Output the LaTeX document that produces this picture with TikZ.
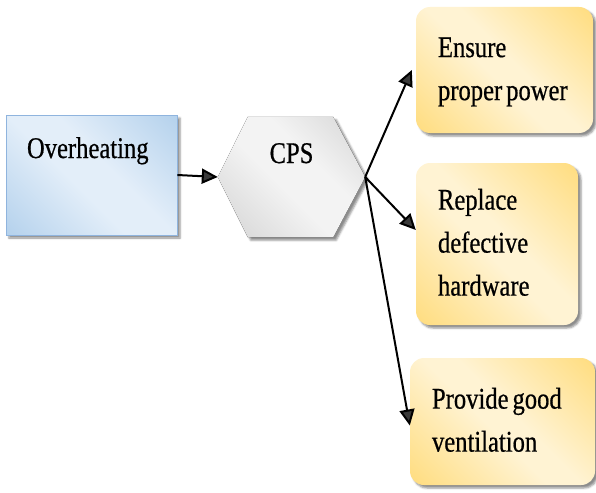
\documentclass[tikz,border=0pt]{standalone}
\usepackage{fontspec}
\setmainfont[FakeStretch=0.82,FakeBold=0.6]{Liberation Serif}
\usetikzlibrary{arrows.meta,shadows.blur}

\definecolor{blueEdge}{HTML}{9DC3E6}
\definecolor{blueMid}{HTML}{E3EEF9}
\definecolor{blueLine}{HTML}{8FB4DE}
\definecolor{grayEdge}{HTML}{C4C4C4}
\definecolor{grayMid}{HTML}{F3F3F3}
\definecolor{goldEdge}{HTML}{FFD257}
\definecolor{goldMid}{HTML}{FFF3D3}

\pgfdeclarehorizontalshading{blueband}{100bp}{color(0bp)=(blueEdge); color(44bp)=(blueMid); color(56bp)=(blueMid); color(100bp)=(blueEdge)}
\pgfdeclarehorizontalshading{grayband}{100bp}{color(0bp)=(grayEdge); color(45bp)=(grayMid); color(60bp)=(grayMid); color(100bp)=(grayEdge)}
\pgfdeclarehorizontalshading{goldband}{100bp}{color(0bp)=(goldEdge); color(46bp)=(goldMid); color(54bp)=(goldMid); color(100bp)=(goldEdge)}

% stacked lines of a label, left aligned, with tight word spacing
\newcommand{\lines}[1]{{\spaceskip=4pt plus 1pt minus 1pt\relax\begin{tabular}{@{}l@{}}#1\end{tabular}}}

\tikzset{
  softshadow/.style={blur shadow={shadow xshift=3pt, shadow yshift=-3pt, shadow blur radius=2pt, shadow opacity=45}},
  causebox/.style={rectangle, draw=blueLine, line width=0.6pt, shading=blueband, shading angle=45,
    softshadow, minimum width=171pt, minimum height=120pt, inner xsep=21pt, inner ysep=0pt,
    text width=129pt, align=left, text height=25pt, text depth=59pt},
  hexcore/.style={rectangle, inner sep=0pt, minimum width=147pt, minimum height=120pt,
    text height=22pt, text depth=50pt},
  fixbox/.style={rectangle, rounded corners=14pt, shading=goldband, shading angle=45,
    softshadow, inner xsep=22pt, align=left},
  link/.style={line width=2pt, -{Triangle[length=16pt,width=15pt]}},
  every node/.style={font=\fontsize{30}{43}\selectfont}
}

\begin{document}
\begin{tikzpicture}[x=1pt, y=-1pt]
  \useasboundingbox (0,0) rectangle (596,492);

  % cause
  \node[causebox] (heat) at (91.5,175) {Overheating};

  % hexagon for the central process
  \node[hexcore] (cps) at (291.5,177) {};
  \fill[shading=grayband, shading angle=45, softshadow]
    (cps.west) -- ([xshift=30pt]cps.north west) -- ([xshift=-32pt]cps.north east)
    -- (cps.east) -- ([xshift=-32pt]cps.south east) -- ([xshift=30pt]cps.south west) -- cycle;
  \node[hexcore] at (cps.center) {CPS};

  % remedies
  \node[fixbox, minimum width=177pt, minimum height=126pt, text width=133pt] (power) at (504.5,70)
    {\lines{Ensure\\proper power}};
  \node[fixbox, minimum width=162pt, minimum height=162pt, text width=118pt] (hw) at (497,244)
    {\lines{Replace\\defective\\hardware}};
  \node[fixbox, minimum width=185pt, minimum height=127pt, text width=141pt] (vent) at (502.5,421.5)
    {\lines{Provide good\\ventilation}};

  % connectors
  \draw[link] (heat.east) -- (cps.west);
  \draw[link] (cps.east) -- ([xshift=-4pt]power.west);
  \draw[link] (cps.east) -- ([yshift=14pt]hw.west);
  \draw[link] (cps.east) -- ([yshift=-4pt]vent.west);
\end{tikzpicture}
\end{document}
